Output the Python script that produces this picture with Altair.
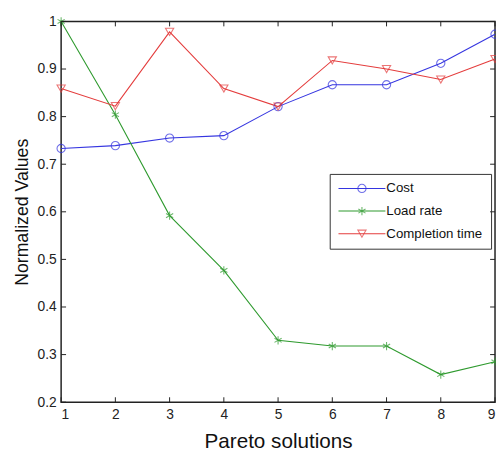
import altair as alt
import pandas as pd

solutions = [1, 2, 3, 4, 5, 6, 7, 8, 9]
cost = [0.733, 0.739, 0.755, 0.760, 0.821, 0.867, 0.867, 0.912, 0.973]
load_rate = [1.0, 0.804, 0.592, 0.477, 0.330, 0.318, 0.318, 0.258, 0.285]
completion = [0.859, 0.822, 0.978, 0.859, 0.821, 0.918, 0.900, 0.878, 0.921]
series_names = ["Cost", "Load rate", "Completion time"]
series_colors = ["#3535e0", "#2e9a2e", "#e43c3c"]
x_ticks = [1, 2, 3, 4, 5, 6, 7, 8, 9]
y_ticks = [0.2, 0.3, 0.4, 0.5, 0.6, 0.7, 0.8, 0.9, 1.0]

rows = []
for name, vals in zip(series_names, [cost, load_rate, completion]):
    for s, v in zip(solutions, vals):
        rows.append({"solution": s, "value": v, "series": name})
df = pd.DataFrame(rows)

asterisk = "M0,-1L0,1M-0.87,-0.5L0.87,0.5M-0.87,0.5L0.87,-0.5"
shapes = ["circle", asterisk, "triangle-down"]
legend_line = "M-5.7,0L5.7,0"

FONT = "Liberation Sans"
W, H = 441, 387
SYM = 70
LX, LY = 273, 155

xs = alt.Scale(domain=[1, 9], nice=False)
ys = alt.Scale(domain=[0.2, 1.0], nice=False, zero=False)

x_enc = alt.X("solution:Q", scale=xs,
              axis=alt.Axis(values=x_ticks, format="d", ticks=False, domain=False, grid=False,
                            title="Pareto solutions", titleFontSize=21, titleFont=FONT,
                            titleFontWeight="normal", titlePadding=9, titleColor="#111",
                            labelFontSize=14, labelFont=FONT, labelPadding=6, labelColor="#222"))
y_enc = alt.Y("value:Q", scale=ys,
              axis=alt.Axis(values=y_ticks, format="~g", ticks=False, domain=False, grid=False,
                            title="Normalized Values", titleFontSize=18, titleFont=FONT,
                            titleFontWeight="normal", titlePadding=6, titleColor="#111",
                            labelFontSize=14, labelFont=FONT, labelPadding=5, labelColor="#222"))

common_legend = dict(orient="none", legendX=LX, legendY=LY, title=None,
                     labelFont=FONT, labelFontSize=13.5, rowPadding=8, padding=8,
                     symbolOffset=18, labelOffset=18, symbolSize=SYM, symbolStrokeWidth=1.1)

lines = alt.Chart(df).mark_line(strokeWidth=1.1).encode(
    x=x_enc, y=y_enc,
    color=alt.Color("series:N", scale=alt.Scale(domain=series_names, range=series_colors),
                    sort=series_names,
                    legend=alt.Legend(symbolType=legend_line, labelOpacity=0, **common_legend)),
)

points = alt.Chart(df).mark_point(filled=False, size=SYM, strokeWidth=1.1).encode(
    x="solution:Q", y="value:Q",
    stroke=alt.Stroke("series:N", scale=alt.Scale(domain=series_names, range=series_colors),
                      sort=series_names,
                      legend=alt.Legend(labelColor="#111", strokeColor="#333",
                                        symbolFillColor="transparent", **common_legend)),
    shape=alt.Shape("series:N", scale=alt.Scale(domain=series_names, range=shapes),
                    sort=series_names,
                    legend=alt.Legend(labelColor="#111", strokeColor="#333",
                                      symbolFillColor="transparent", **common_legend)),
)

tdf = pd.DataFrame({"t": x_ticks})
ydf = pd.DataFrame({"t": y_ticks})
xt_bottom = alt.Chart(tdf).mark_rule(color="#222", strokeWidth=1).encode(
    x=alt.X("t:Q", scale=xs), y=alt.value(H), y2=alt.value(H - 5))
xt_top = alt.Chart(tdf).mark_rule(color="#222", strokeWidth=1).encode(
    x=alt.X("t:Q", scale=xs), y=alt.value(0), y2=alt.value(5))
yt_left = alt.Chart(ydf).mark_rule(color="#222", strokeWidth=1).encode(
    y=alt.Y("t:Q", scale=ys), x=alt.value(0), x2=alt.value(5))
yt_right = alt.Chart(ydf).mark_rule(color="#222", strokeWidth=1).encode(
    y=alt.Y("t:Q", scale=ys), x=alt.value(W), x2=alt.value(W - 5))

chart = alt.layer(lines, points, xt_bottom, xt_top, yt_left, yt_right).resolve_scale(
    color="independent", stroke="independent", shape="independent"
).properties(
    width=W, height=H, autosize="none",
    padding={"left": 54, "top": 10, "right": 1, "bottom": 48},
    background="white",
).configure_view(stroke="#222", strokeWidth=1.5)

chart.save("out.html", embed_options={"renderer": "svg", "actions": False})
